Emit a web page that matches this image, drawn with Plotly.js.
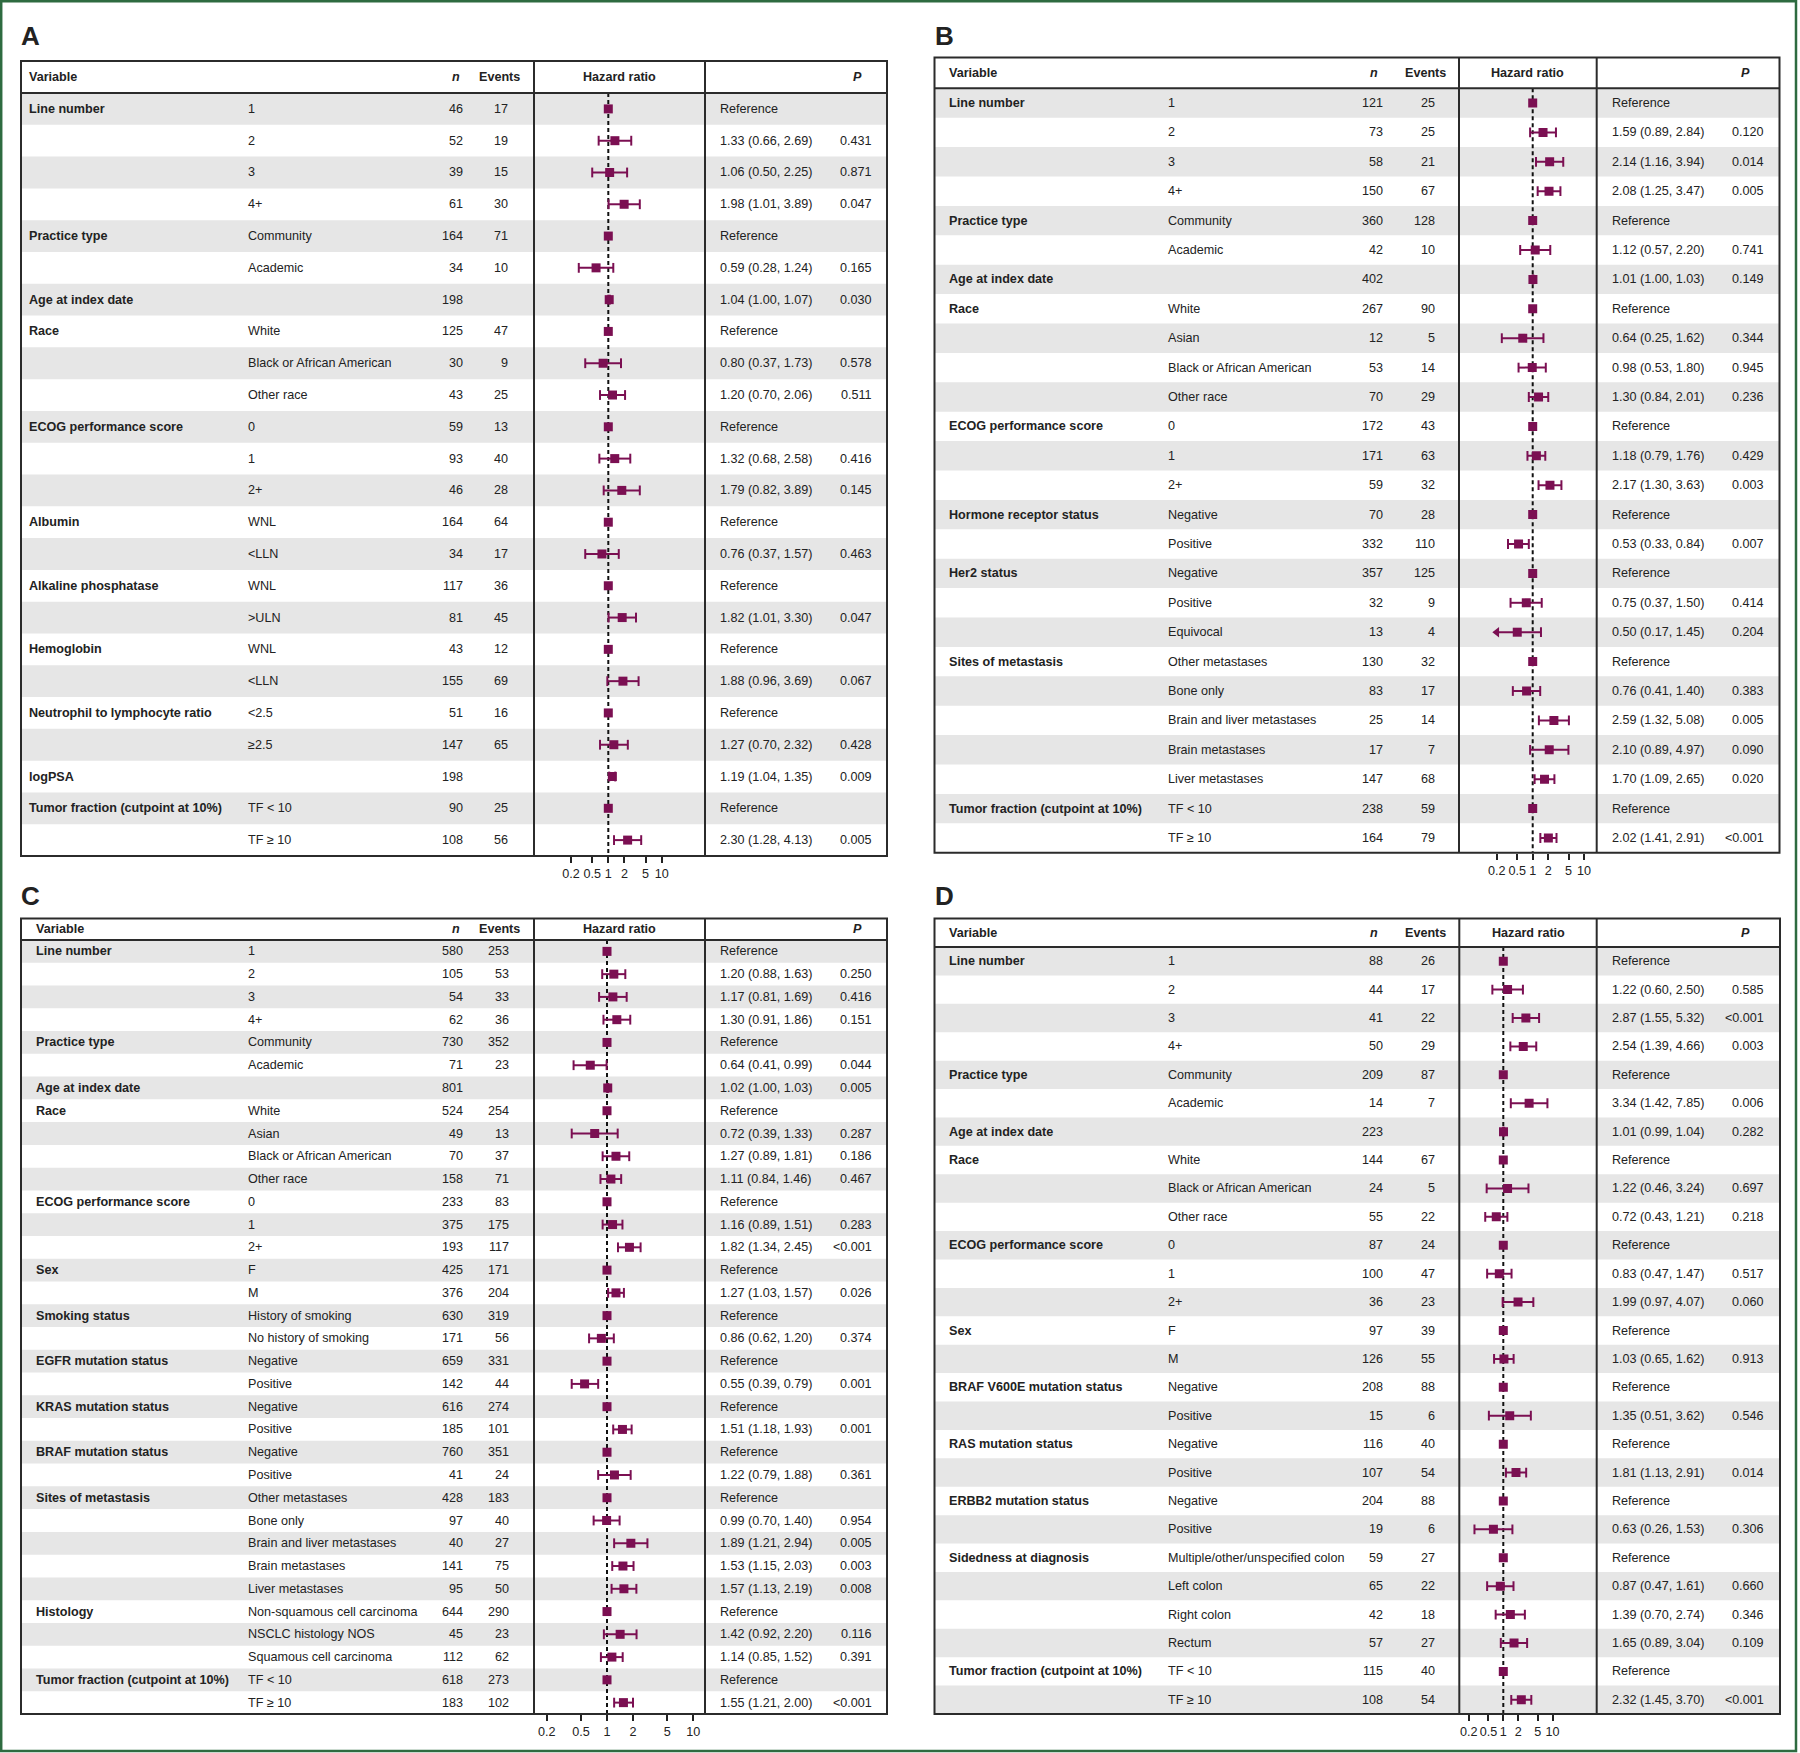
<!DOCTYPE html>
<html><head><meta charset="utf-8">
<script src="https://cdn.plot.ly/plotly-3.0.1.min.js"></script>
<style>html,body{margin:0;padding:0;background:#fff}</style>
</head><body><div id="chart" style="width:1800px;height:1753px"></div>
<script>
// ---------- Panel A ----------
const aGroups = ["Line number","","","","Practice type","","Age at index date","Race","","","ECOG performance score","","","Albumin","","Alkaline phosphatase","","Hemoglobin","","Neutrophil to lymphocyte ratio","","logPSA","Tumor fraction (cutpoint at 10%)",""];
const aLevels = ["1","2","3","4+","Community","Academic","","White","Black or African American","Other race","0","1","2+","WNL","<LLN","WNL",">ULN","WNL","<LLN","<2.5","≥2.5","","TF < 10","TF ≥ 10"];
const aN = [46,52,39,61,164,34,198,125,30,43,59,93,46,164,34,117,81,43,155,51,147,198,90,108];
const aEvents = [17,19,15,30,71,10,null,47,9,25,13,40,28,64,17,36,45,12,69,16,65,null,25,56];
const aHR = [null,1.33,1.06,1.98,null,0.59,1.04,null,0.80,1.20,null,1.32,1.79,null,0.76,null,1.82,null,1.88,null,1.27,1.19,null,2.30];
const aLo = [null,0.66,0.50,1.01,null,0.28,1.00,null,0.37,0.70,null,0.68,0.82,null,0.37,null,1.01,null,0.96,null,0.70,1.04,null,1.28];
const aHi = [null,2.69,2.25,3.89,null,1.24,1.07,null,1.73,2.06,null,2.58,3.89,null,1.57,null,3.30,null,3.69,null,2.32,1.35,null,4.13];
const aP = ["","0.431","0.871","0.047","","0.165","0.030","","0.578","0.511","","0.416","0.145","","0.463","","0.047","","0.067","","0.428","0.009","","0.005"];

// ---------- Panel B ----------
const bGroups = ["Line number","","","","Practice type","","Age at index date","Race","","","","ECOG performance score","","","Hormone receptor status","","Her2 status","","","Sites of metastasis","","","","","Tumor fraction (cutpoint at 10%)",""];
const bLevels = ["1","2","3","4+","Community","Academic","","White","Asian","Black or African American","Other race","0","1","2+","Negative","Positive","Negative","Positive","Equivocal","Other metastases","Bone only","Brain and liver metastases","Brain metastases","Liver metastases","TF < 10","TF ≥ 10"];
const bN = [121,73,58,150,360,42,402,267,12,53,70,172,171,59,70,332,357,32,13,130,83,25,17,147,238,164];
const bEvents = [25,25,21,67,128,10,null,90,5,14,29,43,63,32,28,110,125,9,4,32,17,14,7,68,59,79];
const bHR = [null,1.59,2.14,2.08,null,1.12,1.01,null,0.64,0.98,1.30,null,1.18,2.17,null,0.53,null,0.75,0.50,null,0.76,2.59,2.10,1.70,null,2.02];
const bLo = [null,0.89,1.16,1.25,null,0.57,1.00,null,0.25,0.53,0.84,null,0.79,1.30,null,0.33,null,0.37,0.17,null,0.41,1.32,0.89,1.09,null,1.41];
const bHi = [null,2.84,3.94,3.47,null,2.20,1.03,null,1.62,1.80,2.01,null,1.76,3.63,null,0.84,null,1.50,1.45,null,1.40,5.08,4.97,2.65,null,2.91];
const bP = ["","0.120","0.014","0.005","","0.741","0.149","","0.344","0.945","0.236","","0.429","0.003","","0.007","","0.414","0.204","","0.383","0.005","0.090","0.020","","<0.001"];

// ---------- Panel C ----------
const cGroups = ["Line number","","","","Practice type","","Age at index date","Race","","","","ECOG performance score","","","Sex","","Smoking status","","EGFR mutation status","","KRAS mutation status","","BRAF mutation status","","Sites of metastasis","","","","","Histology","","","Tumor fraction (cutpoint at 10%)",""];
const cLevels = ["1","2","3","4+","Community","Academic","","White","Asian","Black or African American","Other race","0","1","2+","F","M","History of smoking","No history of smoking","Negative","Positive","Negative","Positive","Negative","Positive","Other metastases","Bone only","Brain and liver metastases","Brain metastases","Liver metastases","Non-squamous cell carcinoma","NSCLC histology NOS","Squamous cell carcinoma","TF < 10","TF ≥ 10"];
const cN = [580,105,54,62,730,71,801,524,49,70,158,233,375,193,425,376,630,171,659,142,616,185,760,41,428,97,40,141,95,644,45,112,618,183];
const cEvents = [253,53,33,36,352,23,null,254,13,37,71,83,175,117,171,204,319,56,331,44,274,101,351,24,183,40,27,75,50,290,23,62,273,102];
const cHR = [null,1.20,1.17,1.30,null,0.64,1.02,null,0.72,1.27,1.11,null,1.16,1.82,null,1.27,null,0.86,null,0.55,null,1.51,null,1.22,null,0.99,1.89,1.53,1.57,null,1.42,1.14,null,1.55];
const cLo = [null,0.88,0.81,0.91,null,0.41,1.00,null,0.39,0.89,0.84,null,0.89,1.34,null,1.03,null,0.62,null,0.39,null,1.18,null,0.79,null,0.70,1.21,1.15,1.13,null,0.92,0.85,null,1.21];
const cHi = [null,1.63,1.69,1.86,null,0.99,1.03,null,1.33,1.81,1.46,null,1.51,2.45,null,1.57,null,1.20,null,0.79,null,1.93,null,1.88,null,1.40,2.94,2.03,2.19,null,2.20,1.52,null,2.00];
const cP = ["","0.250","0.416","0.151","","0.044","0.005","","0.287","0.186","0.467","","0.283","<0.001","","0.026","","0.374","","0.001","","0.001","","0.361","","0.954","0.005","0.003","0.008","","0.116","0.391","","<0.001"];

// ---------- Panel D ----------
const dGroups = ["Line number","","","","Practice type","","Age at index date","Race","","","ECOG performance score","","","Sex","","BRAF V600E mutation status","","RAS mutation status","","ERBB2 mutation status","","Sidedness at diagnosis","","","","Tumor fraction (cutpoint at 10%)",""];
const dLevels = ["1","2","3","4+","Community","Academic","","White","Black or African American","Other race","0","1","2+","F","M","Negative","Positive","Negative","Positive","Negative","Positive","Multiple/other/unspecified colon","Left colon","Right colon","Rectum","TF < 10","TF ≥ 10"];
const dN = [88,44,41,50,209,14,223,144,24,55,87,100,36,97,126,208,15,116,107,204,19,59,65,42,57,115,108];
const dEvents = [26,17,22,29,87,7,null,67,5,22,24,47,23,39,55,88,6,40,54,88,6,27,22,18,27,40,54];
const dHR = [null,1.22,2.87,2.54,null,3.34,1.01,null,1.22,0.72,null,0.83,1.99,null,1.03,null,1.35,null,1.81,null,0.63,null,0.87,1.39,1.65,null,2.32];
const dLo = [null,0.60,1.55,1.39,null,1.42,0.99,null,0.46,0.43,null,0.47,0.97,null,0.65,null,0.51,null,1.13,null,0.26,null,0.47,0.70,0.89,null,1.45];
const dHi = [null,2.50,5.32,4.66,null,7.85,1.04,null,3.24,1.21,null,1.47,4.07,null,1.62,null,3.62,null,2.91,null,1.53,null,1.61,2.74,3.04,null,3.70];
const dP = ["","0.585","<0.001","0.003","","0.006","0.282","","0.697","0.218","","0.517","0.060","","0.913","","0.546","","0.014","","0.306","","0.660","0.346","0.109","","<0.001"];

// axis ticks / reference value
const tickVals = [0.2,0.5,1,2,5,10];
const tickText = ["0.2","0.5","1","2","5","10"];
const REF_HR = 1;
const CI_CLIP = 0.2;

// ---------- layout geometry (pixels) ----------
const W=1800, H=1753;
const panels = [
 {id:'A', g:aGroups,l:aLevels,n:aN,e:aEvents,hr:aHR,lo:aLo,hi:aHi,p:aP,
  letter:[21,36], box:[21,887,61,856], hb:93, col:[534,705], one:608.3, dec:53.4,
  xVar:28.6, xLev:248, xN:463, xEv:508, xEst:720, xP:872, xNh:459.5, xEvh:519.5, xPh:861.5},
 {id:'B', g:bGroups,l:bLevels,n:bN,e:bEvents,hr:bHR,lo:bLo,hi:bHi,p:bP,
  letter:[935,36], box:[934.5,1779.5,57.5,852.7], hb:88.3, col:[1459,1596.7], one:1532.7, dec:51.3,
  xVar:948.6, xLev:1168, xN:1383, xEv:1435, xEst:1611.7, xP:1764, xNh:1377.5, xEvh:1445.5, xPh:1750},
 {id:'C', g:cGroups,l:cLevels,n:cN,e:cEvents,hr:cHR,lo:cLo,hi:cHi,p:cP,
  letter:[21,896], box:[21,887,918.4,1714], hb:940, col:[534,705], one:607, dec:86.3,
  xVar:35.7, xLev:248, xN:463, xEv:509, xEst:720, xP:872, xNh:459.5, xEvh:519.5, xPh:861.5},
 {id:'D', g:dGroups,l:dLevels,n:dN,e:dEvents,hr:dHR,lo:dLo,hi:dHi,p:dP,
  letter:[935,896], box:[934.5,1780,918.4,1714], hb:947, col:[1459.3,1596.7], one:1503.3, dec:49.3,
  xVar:948.6, xLev:1168, xN:1383, xEv:1435, xEst:1611.7, xP:1764, xNh:1377.5, xEvh:1445.5, xPh:1750}
];

const FONT='"Liberation Sans", Arial, Helvetica, sans-serif';
const FS=12.6, TXT='#222', MARK='#7b0f52', STRIPE='#e6e6e6', RULE='#2b2b2b';
const fx = x => x/W;
const fy = y => 1 - y/H;
const esc = s => String(s).replace(/&/g,'&amp;').replace(/</g,'&lt;').replace(/>/g,'&gt;');
const f2 = v => v.toFixed(2);

const layout = {width:W,height:H,margin:{l:0,r:0,t:0,b:0},paper_bgcolor:'#fff',plot_bgcolor:'rgba(0,0,0,0)',
  showlegend:false,hovermode:false,font:{family:FONT,size:FS,color:TXT},shapes:[],annotations:[]};
const traces = [];

function ann(text,x,y,yref,xanchor,size){
  layout.annotations.push({text:text,x:fx(x),xref:'paper',y:y,yref:yref,xanchor:xanchor,yanchor:'middle',
    showarrow:false,borderpad:0,borderwidth:0,font:{family:FONT,size:size||FS,color:TXT}});
}

panels.forEach((P,k)=>{
  const sfx = k===0 ? '' : String(k+1);
  const xa='x'+sfx, ya='y'+sfx;
  const n=P.n.length;
  layout['xaxis'+sfx] = {type:'log',domain:[fx(P.col[0]),fx(P.col[1])],
    range:[(P.col[0]-P.one)/P.dec,(P.col[1]-P.one)/P.dec],anchor:ya,
    tickmode:'array',tickvals:tickVals,ticktext:tickText,ticks:'outside',ticklen:6,tickwidth:2,tickcolor:'#222',
    showgrid:false,zeroline:false,showline:false,tickfont:{family:FONT,size:FS,color:TXT},fixedrange:true};
  layout['yaxis'+sfx] = {domain:[fy(P.box[3]),fy(P.hb)],range:[n-0.5,-0.5],visible:false,anchor:xa,fixedrange:true};

  // stripes
  for(let i=0;i<n;i+=2){
    layout.shapes.push({type:'rect',xref:'paper',yref:ya,x0:fx(P.box[0]),x1:fx(P.box[1]),y0:i-0.5,y1:i+0.5,
      fillcolor:STRIPE,line:{width:0},layer:'below'});
  }
  // borders
  layout.shapes.push({type:'rect',xref:'paper',yref:'paper',x0:fx(P.box[0]),x1:fx(P.box[1]),y0:fy(P.box[3]),y1:fy(P.box[2]),
    line:{color:RULE,width:2},fillcolor:'rgba(0,0,0,0)',layer:'above'});
  layout.shapes.push({type:'line',xref:'paper',yref:'paper',x0:fx(P.box[0]),x1:fx(P.box[1]),y0:fy(P.hb),y1:fy(P.hb),
    line:{color:RULE,width:2},layer:'above'});
  P.col.forEach(cx=>{
    layout.shapes.push({type:'line',xref:'paper',yref:'paper',x0:fx(cx),x1:fx(cx),y0:fy(P.box[3]),y1:fy(P.box[2]),
      line:{color:RULE,width:2},layer:'above'});
  });

  // reference dashed line
  traces.push({type:'scatter',mode:'lines',x:[REF_HR,REF_HR],y:[-0.5,n-0.5],xaxis:xa,yaxis:ya,
    line:{color:'#111',width:2,dash:'4px,3px'},hoverinfo:'skip'});

  // CI lines, caps, arrows
  const lx=[],ly=[],cx=[],cy=[],ax=[],ay=[];
  for(let i=0;i<n;i++){
    if(P.hr[i]===null) continue;
    const lo=P.lo[i], hi=P.hi[i];
    const left = lo<CI_CLIP ? CI_CLIP : lo;
    lx.push(left,hi,null); ly.push(i,i,null);
    if(lo<CI_CLIP){ ax.push(CI_CLIP); ay.push(i); } else { cx.push(lo); cy.push(i); }
    cx.push(hi); cy.push(i);
  }
  traces.push({type:'scatter',mode:'lines',x:lx,y:ly,xaxis:xa,yaxis:ya,line:{color:MARK,width:2},connectgaps:false,hoverinfo:'skip'});
  traces.push({type:'scatter',mode:'markers',x:cx,y:cy,xaxis:xa,yaxis:ya,
    marker:{symbol:'line-ns',size:7,color:MARK,line:{color:MARK,width:2}},hoverinfo:'skip'});
  if(ax.length){
    traces.push({type:'scatter',mode:'markers',x:ax,y:ay,xaxis:xa,yaxis:ya,
      marker:{symbol:'triangle-left',size:9,color:MARK,line:{width:0}},hoverinfo:'skip'});
  }
  // point estimates
  traces.push({type:'scatter',mode:'markers',x:P.hr.map(v=>v===null?REF_HR:v),y:P.hr.map((v,i)=>i),xaxis:xa,yaxis:ya,
    marker:{symbol:'square',size:9,color:MARK,line:{width:0}},hoverinfo:'skip'});

  // panel letter
  ann('<b>'+P.id+'</b>',P.letter[0],fy(P.letter[1]),'paper','left',26);
  // header
  const hy = fy((P.box[2]+P.hb)/2);
  ann('<b>Variable</b>',P.xVar,hy,'paper','left');
  ann('<b><i>n</i></b>',P.xNh,hy,'paper','right');
  ann('<b>Events</b>',P.xEvh,hy,'paper','right');
  ann('<b>Hazard ratio</b>',(P.col[0]+P.col[1])/2,hy,'paper','center');
  ann('<b><i>P</i></b>',P.xPh,hy,'paper','right');
  // rows
  for(let i=0;i<n;i++){
    if(P.g[i]) ann('<b>'+esc(P.g[i])+'</b>',P.xVar,i,ya,'left');
    if(P.l[i]) ann(esc(P.l[i]),P.xLev,i,ya,'left');
    ann(String(P.n[i]),P.xN,i,ya,'right');
    if(P.e[i]!==null) ann(String(P.e[i]),P.xEv,i,ya,'right');
    const est = P.hr[i]===null ? 'Reference' : f2(P.hr[i])+' ('+f2(P.lo[i])+', '+f2(P.hi[i])+')';
    ann(est,P.xEst,i,ya,'left');
    if(P.p[i]) ann(esc(P.p[i]),P.xP,i,ya,'right');
  }
});

// outer frame
layout.shapes.push({type:'rect',xref:'paper',yref:'paper',x0:fx(1.2),x1:fx(1796),y0:fy(1751),y1:fy(1.2),
  line:{color:'#2e6b40',width:2.5},fillcolor:'rgba(0,0,0,0)',layer:'above'});

Plotly.newPlot('chart',traces,layout,{staticPlot:true,displayModeBar:false});
</script>
</body></html>
